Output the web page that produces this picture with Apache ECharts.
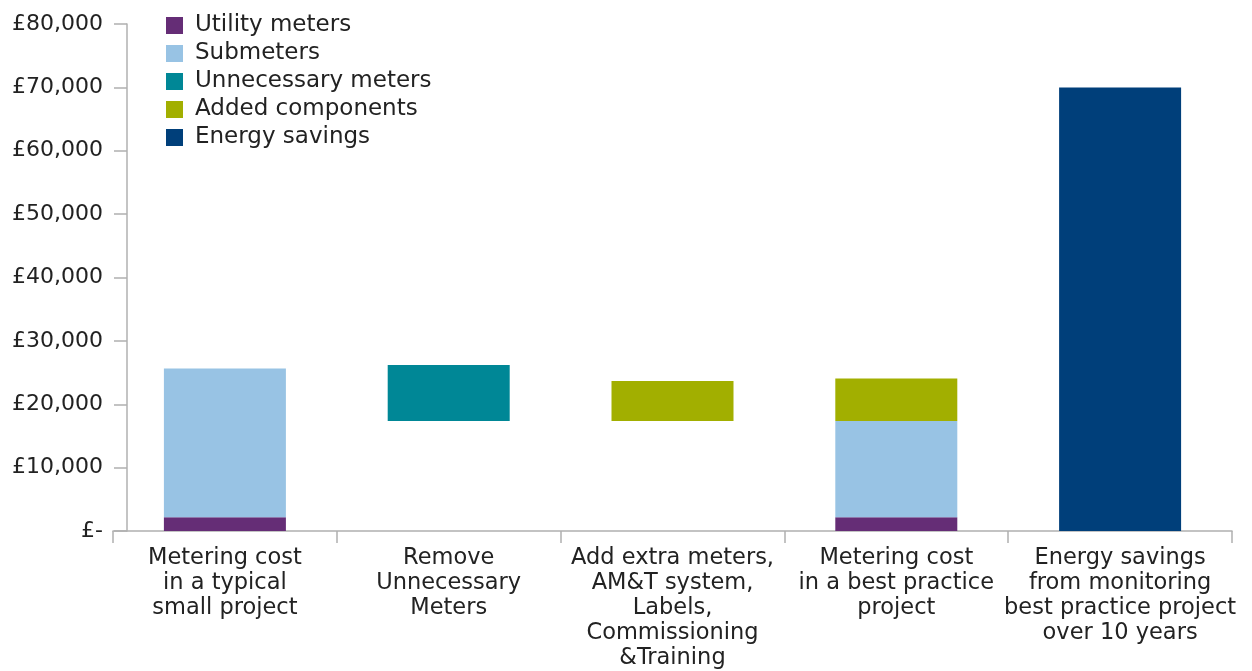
<!DOCTYPE html>
<html>
<head>
<meta charset="utf-8">
<title>Metering cost vs energy savings</title>
<script src="https://cdn.jsdelivr.net/npm/echarts@6/dist/echarts.min.js"></script>
<style>
  html, body { margin: 0; padding: 0; background: #fff; }
  #chart { width: 1252px; height: 671px; }
</style>
</head>
<body>
<div id="chart"></div>
<script>
// categories (line breaks as in the original)
const categories = [
  'Metering cost\nin a typical\nsmall project',
  'Remove\nUnnecessary\nMeters',
  'Add extra meters,\nAM&T system,\nLabels,\nCommissioning\n&Training',
  'Metering cost\nin a best practice\nproject',
  'Energy savings\nfrom monitoring\nbest practice project\nover 10 years'
]

// invisible offset so the middle bars float
const baseOffset = [0, 17350, 17350, 0, 0]
const utilityMeters = [2150, '-', '-', 2150, '-']
const submeters = [23500, '-', '-', 15200, '-']
const unnecessaryMeters = ['-', 8830, '-', '-', '-']
const addedComponents = ['-', '-', 6310, 6730, '-']
const energySavings = ['-', '-', '-', '-', 70000]

const yTickLabels = ['£-', '£10,000', '£20,000', '£30,000', '£40,000', '£50,000', '£60,000', '£70,000', '£80,000']

const font = 'DejaVu Sans'
const chart = echarts.init(document.getElementById('chart'))

const bar = (name, data, color) => ({
  name,
  type: 'bar',
  stack: 'total',
  data,
  barWidth: 122,
  itemStyle: { color },
  emphasis: { disabled: true }
})

chart.setOption({
  animation: false,
  textStyle: { fontFamily: font },
  grid: { left: 113, right: 20, top: 24, bottom: 140, containLabel: false },
  legend: {
    orient: 'vertical',
    left: 161,
    top: 9,
    itemWidth: 17,
    itemHeight: 17,
    itemGap: 5,
    icon: 'rect',
    selectedMode: false,
    data: ['Utility meters', 'Submeters', 'Unnecessary meters', 'Added components', 'Energy savings'],
    textStyle: { fontFamily: font, fontSize: 23, color: '#222', padding: [0, 0, 0, 7] }
  },
  xAxis: {
    type: 'category',
    data: categories,
    axisLine: { lineStyle: { color: '#b0b0b0', width: 1.5 } },
    axisTick: { show: true, length: 12, lineStyle: { color: '#b0b0b0', width: 1.5 } },
    axisLabel: {
      interval: 0,
      margin: 15,
      fontFamily: font,
      fontSize: 22.5,
      lineHeight: 25,
      color: '#222',
      align: 'center'
    }
  },
  yAxis: {
    type: 'value',
    min: 0,
    max: 80000,
    interval: 10000,
    offset: -14,
    splitLine: { show: false },
    axisLine: { show: true, lineStyle: { color: '#b0b0b0', width: 1.5 } },
    axisTick: { show: true, length: 13, lineStyle: { color: '#b0b0b0', width: 1.5 } },
    axisLabel: {
      margin: 24,
      fontFamily: font,
      fontSize: 22,
      color: '#222',
      formatter: v => yTickLabels[Math.round(v / 10000)]
    }
  },
  series: [
    {
      name: 'base',
      type: 'bar',
      stack: 'total',
      data: baseOffset,
      barWidth: 122,
      silent: true,
      itemStyle: { color: 'transparent' },
      emphasis: { disabled: true }
    },
    bar('Utility meters', utilityMeters, '#652d76'),
    bar('Submeters', submeters, '#98c3e4'),
    bar('Unnecessary meters', unnecessaryMeters, '#008796'),
    bar('Added components', addedComponents, '#a2af00'),
    bar('Energy savings', energySavings, '#003f7a')
  ]
})
</script>
</body>
</html>
